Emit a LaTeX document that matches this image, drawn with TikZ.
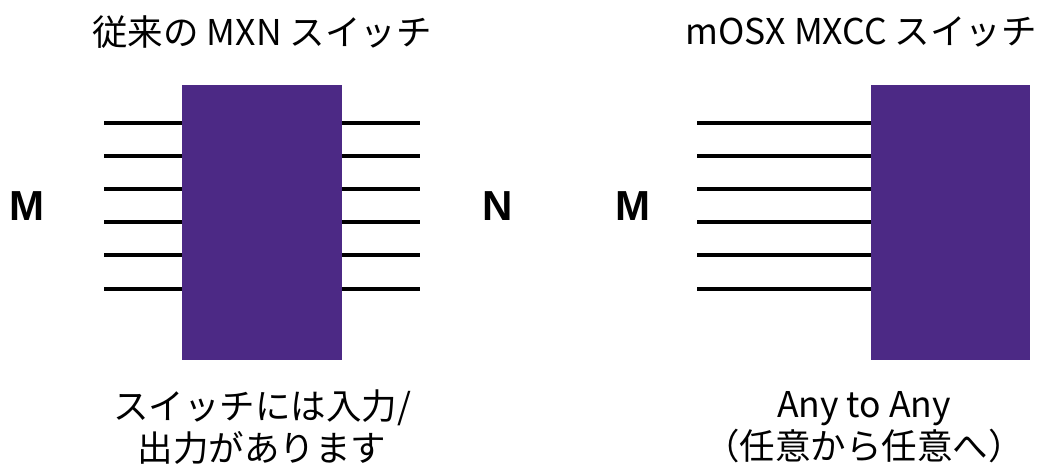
\documentclass[tikz,border=0pt]{standalone}
\usepackage{fontspec}
\setmainfont{Noto Sans CJK JP}
\newfontfamily\labfont{Liberation Sans}
\definecolor{swpurple}{RGB}{76,41,133}
\begin{document}
\begin{tikzpicture}[x=1pt,y=-1pt,
  swbox/.style={fill=swpurple,draw=none,minimum width=#1,inner sep=0pt,outer sep=0pt},
  port/.style={line width=3.4pt,black},
  lbl/.style={font=\fontsize{42}{46}\selectfont\labfont\bfseries,inner sep=0pt},
  ttl/.style={font=\fontsize{35.5}{42}\selectfont,inner sep=0pt,align=center}]
\useasboundingbox (0,0) rectangle (1049,466);
% titles
\node[ttl] (t1) at (262,32) {従来の MXN スイッチ};
\node[ttl] (t2) at (861,32) {mOSX MXCC スイッチ};
% boxes
\node[swbox=160pt,minimum height=275pt] (b1) at (262,222.5) {};
\node[swbox=159pt,minimum height=275pt] (b2) at (950,222.5) {};
% ports
\foreach \i/\y in {1/123,2/156,3/189,4/222,5/255,6/289}{
  \coordinate (li\i) at (104,\y);
  \coordinate (lo\i) at (420,\y);
  \draw[port] (li\i) -- (b1.west |- li\i);
  \draw[port] (b1.east |- lo\i) -- (lo\i);
  \coordinate (ri\i) at (697,\y);
  \draw[port] (ri\i) -- (b2.west |- ri\i);
}
% labels
\node[lbl] (m1) at (27,206) {M};
\node[lbl] (n1) at (498,206) {N};
\node[lbl] (m2) at (633,206) {M};
% captions
\node[ttl] (c1) at (262,427) {スイッチには入力/\\出力があります};
\node[ttl] (c2) at (864,427) {Any to Any\\（任意から任意へ）};
\end{tikzpicture}
\end{document}
